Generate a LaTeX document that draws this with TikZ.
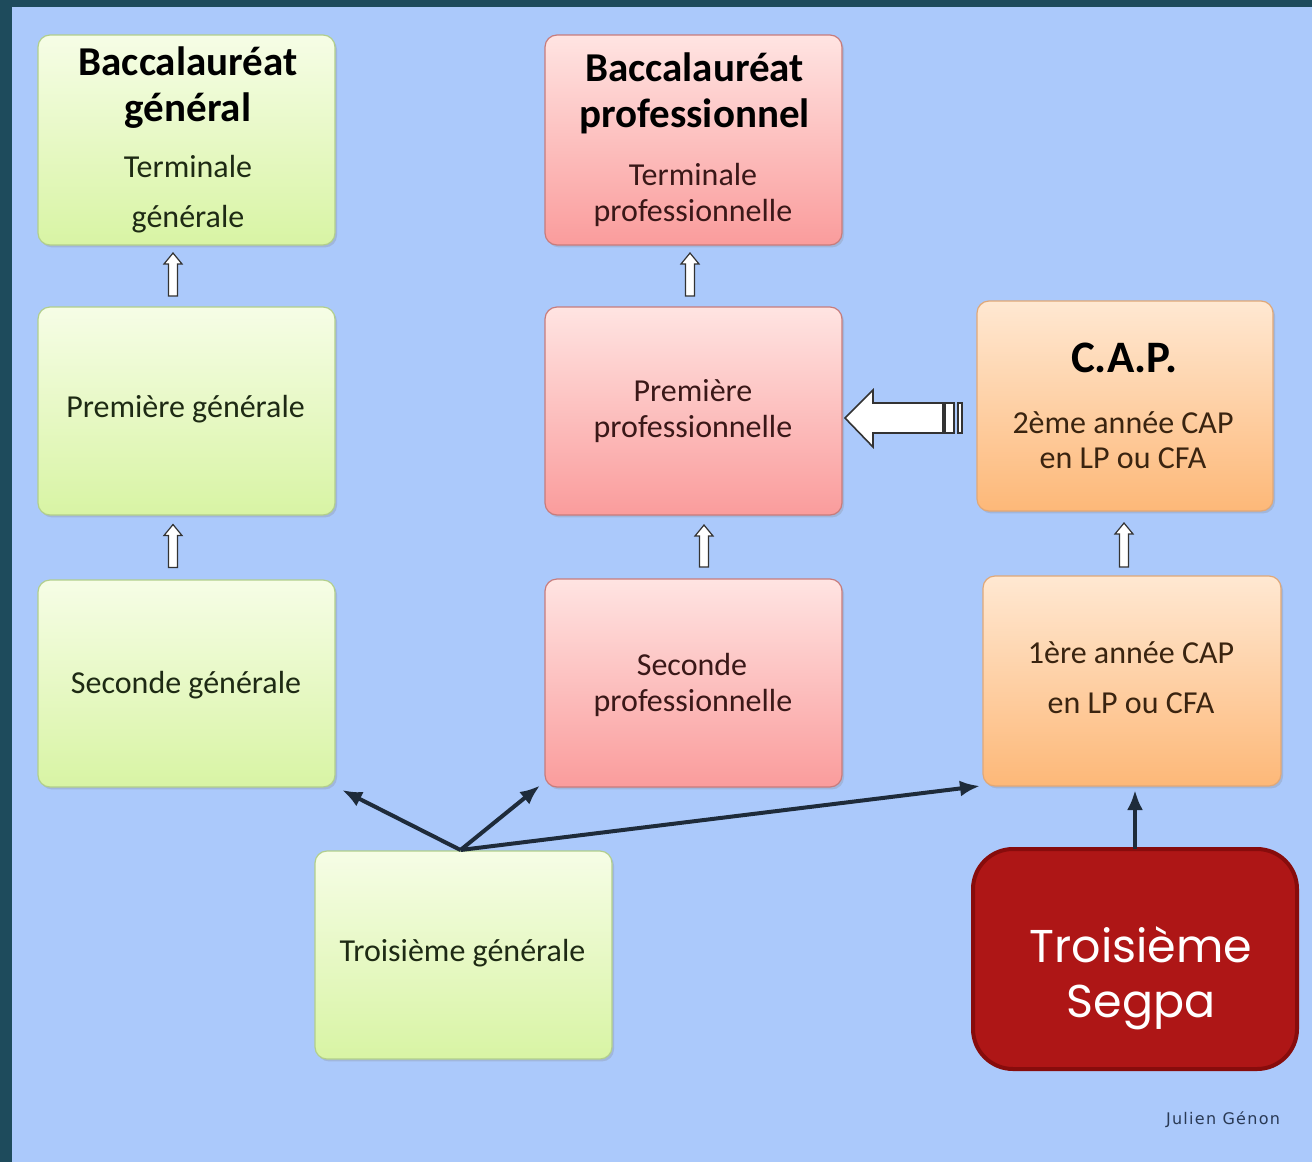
\documentclass[tikz,border=0pt]{standalone}
\usepackage{fontspec}
\setmainfont{Carlito}
\newfontfamily\segpafont{Poppins}
\newfontfamily\sigfont[LetterSpace=8]{DejaVu Sans}
\usetikzlibrary{calc,arrows.meta,shadows}
\definecolor{framecol}{HTML}{1E4B5C}
\definecolor{bgblue}{HTML}{ABC9FB}
\definecolor{gtop}{HTML}{F6FDE6}
\definecolor{gbot}{HTML}{D8F4A4}
\definecolor{gline}{HTML}{B2CF8C}
\definecolor{ptop}{HTML}{FFE4E2}
\definecolor{pbot}{HTML}{FA9C9C}
\definecolor{pline}{HTML}{C87C7C}
\definecolor{otop}{HTML}{FFE8D2}
\definecolor{obot}{HTML}{FDB878}
\definecolor{oline}{HTML}{E0A878}
\definecolor{segfill}{HTML}{AE1616}
\definecolor{segline}{HTML}{870C0C}
\definecolor{darrcol}{HTML}{1E2B3A}
\definecolor{gtext}{HTML}{1E2A14}
\definecolor{ptext}{HTML}{3A1818}
\definecolor{otext}{HTML}{3A2410}
\definecolor{sigcol}{HTML}{2A3A55}
\tikzset{
  box/.style={rounded corners=6pt, minimum width=148.5pt, minimum height=105pt,
    inner sep=0pt, outer sep=0pt, line width=0.6pt,
    drop shadow={opacity=0.25, shadow xshift=1pt, shadow yshift=-1.2pt}},
  gbox/.style={box, draw=gline, top color=gtop, bottom color=gbot},
  pbox/.style={box, draw=pline, top color=ptop, bottom color=pbot},
  obox/.style={box, draw=oline, top color=otop, bottom color=obot},
  segbox/.style={rounded corners=20pt, minimum width=162pt, minimum height=110pt,
    inner sep=0pt, outer sep=0pt, line width=2pt, draw=segline, fill=segfill},
  titletxt/.style={anchor=base, inner sep=0pt, font=\fontsize{20.5}{23}\selectfont\bfseries, text=black},
  captxt/.style={anchor=base, inner sep=0pt, font=\fontsize{22.5}{25}\selectfont\bfseries, text=black},
  normtxt/.style={anchor=base, inner sep=0pt, font=\fontsize{16}{18}\selectfont},
  segtxt/.style={anchor=base, inner sep=0pt, font=\segpafont\fontsize{23}{27}\selectfont, text=white},
  hollow/.style={draw=black!80, fill=white, line width=0.6pt, line join=miter},
  darr/.style={draw=darrcol, line width=2pt, -{Latex[length=10pt,width=8pt]}},
}
\newcommand\hollowup[2]{%
  \draw[hollow] ($(#1)+(-4.5,0)$) -- ($(#2)+(-4.5,11)$) -- ($(#2)+(-9,11)$) -- (#2)
    -- ($(#2)+(9,11)$) -- ($(#2)+(4.5,11)$) -- ($(#1)+(4.5,0)$) -- cycle;}
\begin{document}
\begin{tikzpicture}[x=0.5pt, y=-0.5pt]
\useasboundingbox (0,0) rectangle (1312,1162);
\fill[framecol] (0,0) rectangle (1312,1162);
\fill[bgblue] (12,7) rectangle (1312,1162);

% boxes
\node[gbox] (bg) at (186.5,140) {};
\node[gbox, minimum height=104pt] (pg) at (186.5,411) {};
\node[gbox, minimum height=103.5pt] (sg) at (186.5,683.5) {};
\node[gbox, minimum height=104pt] (tg) at (463.5,955) {};
\node[pbox] (bp) at (693.5,140) {};
\node[pbox, minimum height=104pt] (pp) at (693.5,411) {};
\node[pbox, minimum height=104pt] (sp) at (693.5,683) {};
\node[obox, minimum width=148pt] (cap) at (1125,406) {};
\node[obox, minimum width=149pt] (cap1) at (1132,681) {};
\node[segbox] (segpa) at (1135,959) {};

% texts
\node[titletxt] (bgt1) at (188,75) {Baccalauréat};
\node[titletxt] (bgt2) at (188,121) {général};
\node[normtxt, text=gtext] (bgt3) at (188,177) {Terminale};
\node[normtxt, text=gtext] (bgt4) at (188,227) {générale};
\node[normtxt, text=gtext] (pgt) at (185.5,417) {Première générale};
\node[normtxt, text=gtext] (sgt) at (186,693) {Seconde générale};
\node[normtxt, text=gtext] (tgt) at (462.5,961) {Troisième générale};

\node[titletxt] (bpt1) at (694.5,81) {Baccalauréat};
\node[titletxt] (bpt2) at (694.5,127) {professionnel};
\node[normtxt, text=ptext] (bpt3) at (693,185) {Terminale};
\node[normtxt, text=ptext] (bpt4) at (693,221) {professionnelle};
\node[normtxt, text=ptext] (ppt1) at (693,401) {Première};
\node[normtxt, text=ptext] (ppt2) at (693,437) {professionnelle};
\node[normtxt, text=ptext] (spt1) at (692,675) {Seconde};
\node[normtxt, text=ptext] (spt2) at (693,711) {professionnelle};

\node[captxt] (capt1) at (1124.5,372) {C.A.P.};
\node[normtxt, text=otext] (capt2) at (1123,433) {2ème année CAP};
\node[normtxt, text=otext] (capt3) at (1123,468) {en LP ou CFA};
\node[normtxt, text=otext] (cap1t1) at (1131,663) {1ère année CAP};
\node[normtxt, text=otext] (cap1t2) at (1131,713) {en LP ou CFA};

\node[segtxt] (segt1) at (1141,962) {Troisième};
\node[segtxt] (segt2) at (1141,1017) {Segpa};

\node[anchor=base, inner sep=0pt, font=\sigfont\fontsize{8}{9}\selectfont, text=sigcol] (sig) at (1223,1124) {Julien Génon};

% hollow up arrows
\coordinate (u1a) at ($(pg.north)+(-13.5,-11)$);
\coordinate (u1b) at ($(bg.south)+(-13.5,8)$);
\hollowup{u1a}{u1b}
\coordinate (u2a) at ($(sg.north)+(-13.5,-12.5)$);
\coordinate (u2b) at ($(pg.south)+(-13.5,9.5)$);
\hollowup{u2a}{u2b}
\coordinate (u3a) at ($(pp.north)+(-3.5,-11)$);
\coordinate (u3b) at ($(bp.south)+(-3.5,8)$);
\hollowup{u3a}{u3b}
\coordinate (u4a) at ($(sp.north)+(10.5,-12)$);
\coordinate (u4b) at ($(pp.south)+(10.5,10)$);
\hollowup{u4a}{u4b}
\coordinate (u5a) at ($(cap1.north)+(-8,-9)$);
\coordinate (u5b) at ($(cap.south)+(-1,12)$);
\hollowup{u5a}{u5b}

% big hollow arrow from CAP to Premiere pro
\coordinate (btip) at ($(pp.east)+(3,7)$);
\coordinate (btail) at ($(cap.west)+(-34,12)$);
\draw[hollow, line width=0.8pt] (btip) -- ($(btip)+(28,-28)$) -- ($(btip)+(28,-15)$)
  -- ($(btail)+(0,-15)$) -- ($(btail)+(0,15)$) -- ($(btip)+(28,15)$)
  -- ($(btip)+(28,29)$) -- cycle;
\draw[hollow, line width=0.8pt] ($(btail)+(2,-15)$) rectangle ($(btail)+(11,15)$);
\draw[hollow, line width=0.8pt] ($(btail)+(15,-15)$) rectangle ($(btail)+(19,15)$);

% dark arrows
\coordinate (tgtop) at ($(tg.north)+(-3,-1)$);
\draw[darr] (tgtop) -- ($(sg.south east)+(7,3)$);
\draw[darr] (tgtop) -- ($(sp.south west)+(-5,-1.5)$);
\draw[darr] (tgtop) -- ($(cap1.south west)+(-3,0)$);
\draw[darr] (segpa.north) -- ($(cap1.south)+(3,4)$);
\end{tikzpicture}
\end{document}
